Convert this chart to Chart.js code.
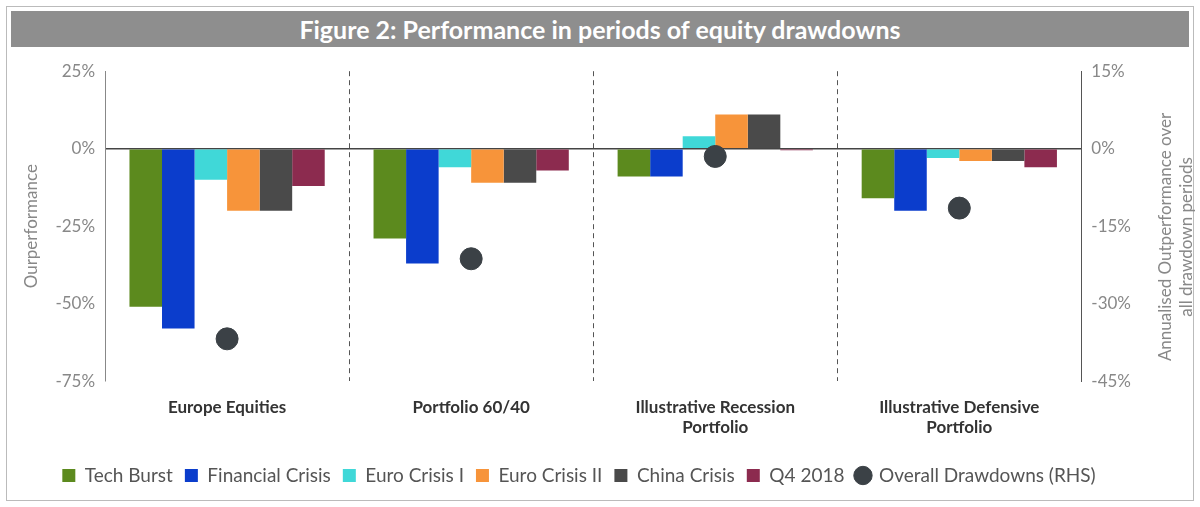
<!DOCTYPE html>
<html>
<head>
<meta charset="utf-8">
<script src="https://cdn.jsdelivr.net/npm/chart.js@4"></script>
<style>
  body { margin: 0; background: #fff; font-family: Lato, "Open Sans", sans-serif; }
  #frame { position: absolute; left: 6px; top: 6px; width: 1186px; height: 493px; border: 1px solid #bbb; }
  #title { position: absolute; left: 4px; top: 4px; right: 4px; height: 36px; background: #8e8e8e;
           color: #fff; font-weight: bold; font-size: 25px; text-align: center; line-height: 36px; }
  #wrap { position: absolute; left: 0; top: 44px; width: 1186px; height: 446px; }
  #rtitle { position: absolute; left: 1168px; top: 230px; width: 400px; transform: translate(-50%, -50%) rotate(-90deg);
            text-align: center; color: #888; font-size: 17px; line-height: 21px; font-family: Lato, sans-serif; }
</style>
</head>
<body>
<div id="frame">
  <div id="title">Figure 2: Performance in periods of equity drawdowns</div>
  <div id="wrap"><canvas id="chart"></canvas></div>
  <div id="rtitle">Annualised Outperformance over<br>all drawdown periods</div>
</div>
<script>
const categories = [['Europe Equities'], ['Portfolio 60/40'], ['Illustrative Recession', 'Portfolio'], ['Illustrative Defensive', 'Portfolio']];
const techBurst = [-51, -29, -9, -16];
const financialCrisis = [-58, -37, -9, -20];
const euroCrisis1 = [-10, -6, 4, -3];
const euroCrisis2 = [-20, -11, 11, -4];
const chinaCrisis = [-20, -11, 11, -4];
const q42018 = [-12, -7, -0.5, -6];
const overallDrawdowns = [-36.8, -21.3, -1.5, -11.5];

const bar = (label, data, color) => ({ type: 'bar', label, data, backgroundColor: color, yAxisID: 'y', order: 2 });

new Chart(document.getElementById('chart'), {
  data: {
    labels: categories,
    datasets: [
      { type: 'line', label: 'Overall Drawdowns (RHS)', data: overallDrawdowns, yAxisID: 'y2', showLine: false,
        pointRadius: 11, pointHoverRadius: 11, pointBackgroundColor: '#3b4146', pointBorderColor: '#3b4146', order: 1 },
      bar('Tech Burst', techBurst, '#5c8a1e'),
      bar('Financial Crisis', financialCrisis, '#0b3dcc'),
      bar('Euro Crisis I', euroCrisis1, '#40d8d8'),
      bar('Euro Crisis II', euroCrisis2, '#f7943a'),
      bar('China Crisis', chinaCrisis, '#4a4a4a'),
      bar('Q4 2018', q42018, '#8c2b4f')
    ]
  },
  options: {
    responsive: true, maintainAspectRatio: false, animation: false,
    layout: { padding: { left: 10, right: 52, top: 10, bottom: 2 } },
    datasets: { bar: { categoryPercentage: 0.8, barPercentage: 1 } },
    plugins: {
      legend: {
        position: 'bottom',
        labels: {
          usePointStyle: true, boxWidth: 13, boxHeight: 13, padding: 12, color: '#555',
          font: { size: 19, family: 'Lato' },
          generateLabels(chart) {
            const items = Chart.defaults.plugins.legend.labels.generateLabels(chart);
            items.forEach(it => { it.pointStyle = it.text.startsWith('Overall') ? 'circle' : 'rect'; });
            return items.slice(1).concat(items.slice(0, 1));
          }
        }
      },
      tooltip: { enabled: false }
    },
    scales: {
      x: {
        grid: { offset: true, color: '#555', drawTicks: false },
        border: { display: false, dash: [5, 4] },
        ticks: { color: '#333', font: { size: 17, weight: 'bold', family: 'Lato' }, padding: 16 }
      },
      y: {
        position: 'left', min: -75, max: 25,
        ticks: { stepSize: 25, callback: v => v + '%', color: '#888', font: { size: 17, family: 'Lato' }, padding: 10 },
        grid: { drawTicks: false, color: ctx => ctx.tick.value === 0 ? '#444' : 'transparent', lineWidth: 1.5 },
        border: { color: '#888' },
        title: { display: true, text: 'Ourperformance', color: '#888', font: { size: 17, family: 'Lato' } }
      },
      y2: {
        position: 'right', min: -45, max: 15,
        ticks: { stepSize: 15, callback: v => v + '%', color: '#888', font: { size: 17, family: 'Lato' }, padding: 10 },
        grid: { display: true, drawOnChartArea: false, drawTicks: false, color: 'transparent' },
        border: { display: true, color: '#555', dash: [5, 4] }
      }
    }
  }
});
</script>
</body>
</html>
